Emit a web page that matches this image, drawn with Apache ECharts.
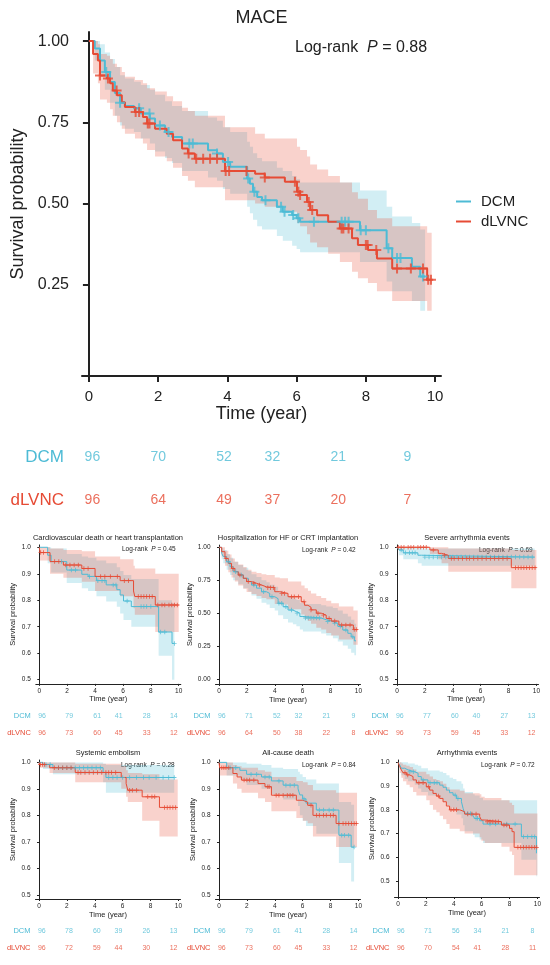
<!DOCTYPE html>
<html>
<head>
<meta charset="utf-8">
<script src="https://cdn.jsdelivr.net/npm/echarts@6/dist/echarts.min.js"></script>
<style>
 html, body { margin: 0; padding: 0; background: #fff; }
 #chart { width: 550px; height: 965px; }
</style>
</head>
<body>
<div id="chart"></div>
<script>
// ---- data: step times, survival, CI lower/upper, censor times ----
// MACE
var mainDcmT  = [0, 0.17, 0.32, 0.46, 0.61, 0.75, 0.90, 1.04, 1.3, 1.5, 1.76, 1.91, 2.2, 2.4, 2.69, 3.44, 3.7, 3.87, 4.08, 4.57, 4.65, 4.74, 4.86, 5.0, 5.43, 5.6, 5.87, 6.0, 6.1, 7.83, 8.6, 8.76, 9.33, 9.57, 9.71];
var mainDcmS  = [1, 0.977, 0.94, 0.905, 0.874, 0.84, 0.81, 0.80, 0.793, 0.777, 0.762, 0.74, 0.72, 0.705, 0.685, 0.664, 0.654, 0.628, 0.613, 0.577, 0.561, 0.536, 0.52, 0.51, 0.49, 0.475, 0.465, 0.455, 0.444, 0.418, 0.362, 0.332, 0.305, 0.275, 0.275];
var mainDcmLo = [1, 0.94, 0.89, 0.85, 0.81, 0.77, 0.74, 0.73, 0.72, 0.70, 0.685, 0.66, 0.64, 0.625, 0.60, 0.58, 0.57, 0.545, 0.53, 0.49, 0.47, 0.45, 0.43, 0.42, 0.40, 0.385, 0.37, 0.36, 0.35, 0.32, 0.26, 0.23, 0.2, 0.17, 0.17];
var mainDcmHi = [1, 1, 0.99, 0.965, 0.945, 0.92, 0.895, 0.885, 0.875, 0.865, 0.85, 0.835, 0.815, 0.80, 0.785, 0.765, 0.755, 0.735, 0.72, 0.69, 0.675, 0.655, 0.64, 0.63, 0.61, 0.6, 0.585, 0.575, 0.565, 0.54, 0.49, 0.46, 0.44, 0.42, 0.42];
var mainDcmC  = [0.5, 0.9, 1.45, 1.75, 2.05, 2.3, 2.9, 3.0, 3.7, 4.02, 4.6, 4.78, 5.1, 5.55, 5.65, 5.9, 6.05, 6.5, 7.3, 7.4, 7.5, 7.85, 8.0, 8.65, 8.9, 9.0, 9.65];
var mainLvT  = [0, 0.12, 0.26, 0.32, 0.52, 0.61, 0.69, 0.81, 0.95, 1.04, 1.33, 1.56, 1.68, 1.91, 2.25, 2.43, 2.69, 2.86, 3.06, 3.93, 4.8, 5.08, 5.66, 6.01, 6.1, 6.3, 6.39, 6.59, 6.91, 7.25, 7.6, 7.77, 8.06, 8.32, 8.76, 9.77, 9.9];
var mainLvS  = [1, 0.96, 0.94, 0.894, 0.885, 0.87, 0.848, 0.833, 0.812, 0.797, 0.782, 0.766, 0.746, 0.73, 0.715, 0.695, 0.669, 0.654, 0.638, 0.6, 0.592, 0.58, 0.567, 0.536, 0.526, 0.505, 0.48, 0.464, 0.444, 0.423, 0.393, 0.372, 0.357, 0.331, 0.30, 0.265, 0.265];
var mainLvLo = [1, 0.90, 0.87, 0.82, 0.81, 0.79, 0.77, 0.75, 0.73, 0.715, 0.70, 0.685, 0.665, 0.645, 0.63, 0.61, 0.585, 0.57, 0.55, 0.51, 0.50, 0.49, 0.475, 0.44, 0.43, 0.405, 0.38, 0.365, 0.345, 0.32, 0.29, 0.27, 0.255, 0.23, 0.20, 0.17, 0.17];
var mainLvHi = [1, 1, 0.99, 0.96, 0.955, 0.945, 0.93, 0.92, 0.905, 0.89, 0.88, 0.87, 0.855, 0.845, 0.83, 0.815, 0.795, 0.785, 0.77, 0.735, 0.715, 0.70, 0.70, 0.675, 0.665, 0.645, 0.62, 0.605, 0.585, 0.565, 0.535, 0.515, 0.48, 0.455, 0.43, 0.41, 0.41];
var mainLvC  = [0.32, 0.55, 0.8, 1.35, 1.45, 1.7, 1.75, 2.88, 3.1, 3.3, 3.5, 3.7, 3.95, 4.05, 4.55, 5.08, 5.95, 6.05, 6.1, 6.35, 6.45, 7.3, 7.35, 7.5, 8.0, 8.05, 8.3, 8.9, 9.3, 9.65, 9.8, 9.88];
var mainRiskDcm = [96, 70, 52, 32, 21, 9];
var mainRiskLv  = [96, 64, 49, 37, 20, 7];

// Cardiovascular death or heart transplantation
var p1DcmT  = [0, 0.6, 0.85, 1.97, 3.05, 3.5, 4.1, 4.8, 5.56, 5.8, 6.04, 6.6, 8.56, 9.52, 9.69];
var p1DcmS  = [1, 0.97, 0.946, 0.914, 0.898, 0.89, 0.874, 0.858, 0.84, 0.82, 0.797, 0.776, 0.68, 0.637, 0.637];
var p1DcmLo = [1, 0.94, 0.905, 0.865, 0.845, 0.835, 0.815, 0.795, 0.775, 0.75, 0.725, 0.70, 0.59, 0.50, 0.50];
var p1DcmHi = [1, 1, 0.995, 0.975, 0.965, 0.96, 0.95, 0.94, 0.925, 0.91, 0.895, 0.88, 0.80, 0.79, 0.79];
var p1DcmC  = [1.6, 2.3, 2.6, 3.6, 4.2, 4.5, 4.7, 5.3, 5.5, 6.3, 7.3, 7.5, 7.7, 8.0, 8.7, 9.0, 9.69];
var p1LvT  = [0, 0.05, 0.77, 1.73, 3.05, 4.0, 5.8, 6.76, 6.85, 8.32, 10.0];
var p1LvS  = [1, 0.98, 0.946, 0.933, 0.92, 0.89, 0.874, 0.835, 0.814, 0.782, 0.782];
var p1LvLo = [1, 0.95, 0.90, 0.885, 0.87, 0.835, 0.815, 0.77, 0.745, 0.68, 0.68];
var p1LvHi = [1, 1, 0.995, 0.99, 0.985, 0.965, 0.955, 0.93, 0.92, 0.90, 0.90];
var p1LvC  = [0.1, 0.3, 1.1, 1.4, 1.9, 2.2, 2.5, 2.8, 3.2, 3.5, 4.4, 4.7, 5.1, 5.6, 6.1, 6.4, 7.1, 7.3, 7.5, 7.7, 7.9, 8.1, 8.5, 8.8, 9.0, 9.3, 9.5, 9.7, 9.9];
var p1RiskDcm = [96, 79, 61, 41, 28, 14];
var p1RiskLv  = [96, 73, 60, 45, 33, 12];

// Hospitalization for HF or CRT implantation
var p2DcmT  = [0, 0.19, 0.31, 0.55, 0.79, 1.02, 1.38, 1.74, 2.1, 2.33, 2.69, 3.05, 3.4, 3.64, 4.0, 4.24, 4.6, 4.95, 5.3, 5.55, 5.8, 6.02, 7.33, 7.69, 8.17, 8.52, 8.88, 9.24, 9.48, 9.71, 9.83];
var p2DcmS  = [1, 0.954, 0.93, 0.89, 0.853, 0.815, 0.79, 0.765, 0.74, 0.714, 0.69, 0.663, 0.65, 0.625, 0.61, 0.575, 0.549, 0.524, 0.511, 0.5, 0.475, 0.463, 0.45, 0.437, 0.423, 0.4, 0.372, 0.347, 0.32, 0.29, 0.29];
var p2DcmLo = [1, 0.91, 0.88, 0.83, 0.79, 0.75, 0.72, 0.69, 0.665, 0.635, 0.61, 0.58, 0.565, 0.54, 0.52, 0.485, 0.455, 0.43, 0.415, 0.40, 0.375, 0.36, 0.345, 0.33, 0.31, 0.285, 0.255, 0.23, 0.20, 0.18, 0.18];
var p2DcmHi = [1, 0.995, 0.98, 0.95, 0.92, 0.89, 0.865, 0.845, 0.82, 0.795, 0.775, 0.75, 0.735, 0.715, 0.70, 0.67, 0.645, 0.625, 0.61, 0.60, 0.58, 0.57, 0.56, 0.55, 0.54, 0.52, 0.495, 0.475, 0.45, 0.42, 0.42];
var p2DcmC  = [0.7, 1.2, 1.6, 2.5, 3.2, 3.8, 4.3, 4.5, 4.8, 5.2, 5.6, 6.2, 6.4, 6.6, 6.8, 7.0, 7.2, 7.8, 8.3, 8.7, 9.1, 9.6];
var p2LvT  = [0, 0.19, 0.43, 0.67, 0.9, 1.14, 1.38, 1.74, 1.98, 2.33, 2.69, 3.05, 3.4, 4.0, 4.36, 4.95, 5.9, 6.14, 6.38, 6.6, 6.98, 7.33, 7.69, 8.05, 8.6, 9.64, 9.95];
var p2LvS  = [1, 0.967, 0.916, 0.878, 0.84, 0.815, 0.79, 0.765, 0.74, 0.727, 0.714, 0.70, 0.694, 0.663, 0.65, 0.625, 0.587, 0.56, 0.545, 0.525, 0.50, 0.485, 0.46, 0.44, 0.41, 0.375, 0.375];
var p2LvLo = [1, 0.93, 0.86, 0.81, 0.77, 0.74, 0.71, 0.685, 0.66, 0.645, 0.63, 0.615, 0.605, 0.57, 0.565, 0.53, 0.49, 0.46, 0.44, 0.42, 0.39, 0.375, 0.35, 0.33, 0.30, 0.26, 0.26];
var p2LvHi = [1, 1, 0.975, 0.945, 0.915, 0.89, 0.87, 0.85, 0.83, 0.815, 0.805, 0.795, 0.79, 0.77, 0.765, 0.74, 0.71, 0.69, 0.67, 0.65, 0.63, 0.615, 0.595, 0.575, 0.55, 0.52, 0.52];
var p2LvC  = [0.5, 1.0, 1.5, 2.1, 2.5, 2.9, 3.5, 3.7, 3.9, 4.5, 4.7, 5.2, 5.4, 5.7, 6.1, 6.6, 7.1, 7.5, 7.9, 8.3, 8.8, 9.1, 9.4, 9.7, 9.85];
var p2RiskDcm = [96, 71, 52, 32, 21, 9];
var p2RiskLv  = [96, 64, 50, 38, 22, 8];

// Severe arrhythmia events
var p3DcmT  = [0, 0.14, 0.45, 1.5, 1.77, 9.88];
var p3DcmS  = [1, 0.99, 0.979, 0.97, 0.963, 0.963];
var p3DcmLo = [1, 0.97, 0.955, 0.94, 0.93, 0.93];
var p3DcmHi = [1, 1, 1, 1, 0.995, 0.995];
var p3DcmC  = [0.3, 0.6, 0.9, 1.1, 1.3, 2.0, 2.3, 2.6, 2.9, 3.2, 3.5, 3.8, 4.0, 4.3, 4.6, 4.9, 5.2, 5.5, 5.8, 6.1, 6.4, 6.7, 7.0, 7.3, 7.6, 7.9, 8.2, 8.5, 8.8, 9.1, 9.4, 9.7];
var p3LvT  = [0, 2.36, 2.96, 3.2, 3.68, 8.2, 10.0];
var p3LvS  = [1, 0.99, 0.977, 0.97, 0.958, 0.923, 0.923];
var p3LvLo = [1, 0.975, 0.955, 0.94, 0.908, 0.845, 0.845];
var p3LvHi = [1, 1, 1, 1, 0.995, 0.99, 0.99];
var p3LvC  = [0.1, 0.3, 0.5, 0.8, 1.0, 1.2, 1.5, 1.7, 1.9, 2.1, 2.6, 3.4, 3.9, 4.1, 4.4, 4.7, 5.0, 5.2, 5.5, 5.8, 6.1, 6.4, 6.7, 7.0, 7.3, 7.6, 7.9, 8.5, 8.7, 8.9, 9.1, 9.3, 9.5, 9.7, 9.9];
var p3RiskDcm = [96, 77, 60, 40, 27, 13];
var p3RiskLv  = [96, 73, 59, 45, 33, 12];

// Systemic embolism
var p4DcmT  = [0, 0.29, 1.0, 4.6, 4.8, 9.7];
var p4DcmS  = [1, 0.992, 0.98, 0.962, 0.943, 0.943];
var p4DcmLo = [1, 0.975, 0.955, 0.925, 0.885, 0.885];
var p4DcmHi = [1, 1, 1, 0.995, 0.99, 0.99];
var p4DcmC  = [0.5, 0.8, 1.4, 1.7, 2.0, 2.3, 2.6, 2.9, 3.2, 3.5, 3.8, 4.1, 4.4, 5.0, 5.3, 5.6, 6.0, 6.5, 7.0, 7.5, 7.9, 8.4, 8.9, 9.3, 9.7];
var p4LvT  = [0, 0.05, 0.76, 2.6, 5.9, 6.25, 6.37, 7.4, 8.64, 9.95];
var p4LvS  = [1, 0.992, 0.98, 0.962, 0.943, 0.92, 0.895, 0.87, 0.83, 0.83];
var p4LvLo = [1, 0.98, 0.96, 0.925, 0.9, 0.87, 0.85, 0.78, 0.72, 0.72];
var p4LvHi = [1, 1, 1, 0.995, 0.985, 0.97, 0.96, 0.955, 0.935, 0.935];
var p4LvC  = [0.1, 0.25, 0.4, 1.1, 1.4, 1.7, 2.0, 2.3, 2.8, 3.0, 3.3, 3.6, 3.9, 4.2, 4.5, 4.8, 5.0, 5.2, 5.5, 6.5, 6.7, 7.0, 7.8, 8.1, 8.3, 9.0, 9.2, 9.4, 9.6, 9.8];
var p4RiskDcm = [96, 78, 60, 39, 26, 13];
var p4RiskLv  = [96, 72, 59, 44, 30, 12];

// All-cause death
var p5DcmT  = [0, 0.55, 1.5, 1.98, 3.05, 3.76, 4.6, 5.67, 5.8, 6.0, 6.24, 6.98, 8.6, 9.48, 9.69];
var p5DcmS  = [1, 0.98, 0.97, 0.955, 0.945, 0.93, 0.914, 0.9, 0.877, 0.862, 0.846, 0.82, 0.725, 0.68, 0.68];
var p5DcmLo = [1, 0.95, 0.935, 0.915, 0.9, 0.88, 0.86, 0.835, 0.80, 0.78, 0.76, 0.73, 0.62, 0.55, 0.55];
var p5DcmHi = [1, 1, 1, 0.995, 0.99, 0.98, 0.975, 0.965, 0.955, 0.945, 0.935, 0.92, 0.85, 0.84, 0.84];
var p5DcmC  = [0.8, 1.2, 2.3, 2.7, 3.3, 3.6, 4.3, 4.8, 5.1, 5.4, 6.1, 7.2, 7.5, 7.9, 8.2, 8.8, 9.0, 9.3, 9.69];
var p5LvT  = [0, 0.05, 1.0, 1.3, 1.62, 2.8, 3.3, 3.76, 5.55, 6.02, 6.36, 6.74, 8.4, 9.9];
var p5LvS  = [1, 0.98, 0.958, 0.945, 0.933, 0.92, 0.908, 0.876, 0.857, 0.85, 0.838, 0.80, 0.769, 0.769];
var p5LvLo = [1, 0.95, 0.92, 0.90, 0.885, 0.865, 0.85, 0.815, 0.79, 0.78, 0.77, 0.72, 0.68, 0.68];
var p5LvHi = [1, 1, 0.99, 0.985, 0.98, 0.97, 0.965, 0.945, 0.93, 0.925, 0.915, 0.895, 0.885, 0.885];
var p5LvC  = [0.2, 0.35, 0.5, 0.7, 1.8, 2.0, 2.2, 2.5, 3.5, 3.6, 4.1, 4.3, 4.6, 4.9, 5.1, 5.3, 6.6, 7.0, 7.2, 7.5, 7.7, 8.0, 8.2, 8.6, 8.9, 9.1, 9.3, 9.5, 9.7, 9.85];
var p5RiskDcm = [96, 79, 61, 41, 28, 14];
var p5RiskLv  = [96, 73, 60, 45, 33, 12];

// Arrhythmia events
var p6DcmT  = [0, 0.12, 0.24, 0.48, 0.72, 1.2, 1.44, 1.67, 2.15, 2.99, 3.23, 3.47, 3.7, 3.95, 4.19, 4.55, 4.67, 4.78, 5.38, 5.5, 5.86, 6.1, 8.85, 9.93, 9.98];
var p6DcmS  = [1, 0.989, 0.975, 0.968, 0.96, 0.954, 0.94, 0.926, 0.914, 0.904, 0.895, 0.883, 0.872, 0.862, 0.848, 0.834, 0.806, 0.785, 0.774, 0.764, 0.754, 0.74, 0.687, 0.617, 0.617];
var p6DcmLo = [1, 0.97, 0.945, 0.93, 0.92, 0.905, 0.89, 0.875, 0.86, 0.845, 0.835, 0.82, 0.81, 0.80, 0.78, 0.765, 0.735, 0.71, 0.695, 0.685, 0.675, 0.66, 0.59, 0.52, 0.52];
var p6DcmHi = [1, 1, 1, 1, 0.995, 0.99, 0.985, 0.975, 0.965, 0.96, 0.955, 0.945, 0.935, 0.93, 0.92, 0.91, 0.89, 0.875, 0.865, 0.86, 0.85, 0.84, 0.84, 0.84, 0.84];
var p6DcmC  = [0.85, 1.1, 1.8, 2.3, 2.6, 2.8, 4.1, 4.3, 5.0, 5.2, 5.6, 5.7, 6.6, 7.0, 7.8, 8.4, 9.0, 9.3, 9.6, 9.8];
var p6LvT  = [0, 0.12, 0.24, 0.36, 0.6, 0.84, 1.08, 1.32, 2.03, 2.27, 2.51, 2.75, 2.99, 3.23, 3.47, 3.7, 4.43, 4.78, 5.86, 5.98, 6.22, 7.42, 8.0, 8.18, 8.33, 10.0];
var p6LvS  = [1, 0.982, 0.968, 0.956, 0.947, 0.94, 0.926, 0.914, 0.897, 0.883, 0.869, 0.858, 0.848, 0.834, 0.816, 0.80, 0.792, 0.782, 0.771, 0.757, 0.75, 0.736, 0.722, 0.708, 0.642, 0.642];
var p6LvLo = [1, 0.955, 0.935, 0.92, 0.905, 0.895, 0.875, 0.86, 0.84, 0.82, 0.80, 0.79, 0.775, 0.76, 0.74, 0.72, 0.71, 0.70, 0.685, 0.67, 0.66, 0.645, 0.625, 0.61, 0.525, 0.525];
var p6LvHi = [1, 1, 0.995, 0.99, 0.985, 0.98, 0.97, 0.96, 0.95, 0.94, 0.93, 0.925, 0.92, 0.91, 0.895, 0.885, 0.88, 0.87, 0.865, 0.855, 0.85, 0.84, 0.83, 0.82, 0.785, 0.785];
var p6LvC  = [0.5, 0.7, 1.5, 1.8, 2.2, 2.9, 3.8, 4.0, 4.2, 5.0, 5.3, 5.6, 6.4, 6.6, 6.8, 7.0, 7.2, 7.6, 7.8, 8.6, 8.8, 9.0, 9.2, 9.4, 9.6, 9.8, 9.95];
var p6RiskDcm = [96, 71, 56, 34, 21, 8];
var p6RiskLv  = [96, 70, 54, 41, 28, 11];

var groups = ['DCM', 'dLVNC'];
var timeTicks = [0, 2, 4, 6, 8, 10];
var mainRiskCols = [0.1, 2.0, 3.9, 5.3, 7.2, 9.2];
var smallRiskCols = [0.2, 2.15, 4.15, 5.7, 7.7, 9.65];

// ---- styling ----
var F = 'Liberation Sans, Arial, Helvetica, sans-serif';
var BLUE = '#4DBBD5', RED = '#E64B35';
var BLUE_BAND = 'rgba(77,187,213,0.25)', RED_BAND = 'rgba(230,75,53,0.25)';
var INK = '#222';
var PLUS = 'path://M-0.2,-1 L0.2,-1 L0.2,-0.2 L1,-0.2 L1,0.2 L0.2,0.2 L0.2,1 L-0.2,1 L-0.2,0.2 L-1,0.2 L-1,-0.2 L-0.2,-0.2 Z';

var y51 = [0.5, 0.6, 0.7, 0.8, 0.9, 1.0];
var panels = [
  {big: true, title: 'MACE', p: '0.88', left: 82, top: 32, w: 359, h: 344, xMin: -0.2, xMax: 10.17, yMin: -0.031, yMax: 1.028,
   yTicks: [0.25, 0.5, 0.75, 1.0], dec: 2, tx: 261.5, ty: 18, lx: 295, ly: 48, rTop: 435.5, rH: 86, cols: mainRiskCols,
   dcm: [mainDcmT, mainDcmS, mainDcmLo, mainDcmHi, mainDcmC], lv: [mainLvT, mainLvS, mainLvLo, mainLvHi, mainLvC], risk: [mainRiskDcm, mainRiskLv]},
  {title: 'Cardiovascular death or heart transplantation', p: '0.45', left: 35.8, top: 544.9, w: 145, h: 139, xMin: -0.25, xMax: 10.15, yMin: 0.484, yMax: 1.009,
   yTicks: y51, dec: 1, tx: 108, ty: 538, lx: 122, ly: 549.5, rTop: 707.5, rH: 34, cols: smallRiskCols,
   dcm: [p1DcmT, p1DcmS, p1DcmLo, p1DcmHi, p1DcmC], lv: [p1LvT, p1LvS, p1LvLo, p1LvHi, p1LvC], risk: [p1RiskDcm, p1RiskLv]},
  {title: 'Hospitalization for HF or CRT implantation', p: '0.42', left: 215.5, top: 545.1, w: 145, h: 138.9, xMin: -0.25, xMax: 10.15, yMin: -0.038, yMax: 1.017,
   yTicks: [0, 0.25, 0.5, 0.75, 1.0], dec: 2, tx: 288, ty: 537.5, lx: 302, ly: 550, rTop: 707.5, rH: 34, cols: smallRiskCols,
   dcm: [p2DcmT, p2DcmS, p2DcmLo, p2DcmHi, p2DcmC], lv: [p2LvT, p2LvS, p2LvLo, p2LvHi, p2LvC], risk: [p2RiskDcm, p2RiskLv]},
  {title: 'Severe arrhythmia events', p: '0.69', left: 393.5, top: 544.9, w: 145, h: 139, xMin: -0.25, xMax: 10.15, yMin: 0.484, yMax: 1.009,
   yTicks: y51, dec: 1, tx: 467, ty: 538.3, lx: 479, ly: 550, rTop: 707.5, rH: 34, cols: smallRiskCols,
   dcm: [p3DcmT, p3DcmS, p3DcmLo, p3DcmHi, p3DcmC], lv: [p3LvT, p3LvS, p3LvLo, p3LvHi, p3LvC], risk: [p3RiskDcm, p3RiskLv]},
  {title: 'Systemic embolism', p: '0.28', left: 35.5, top: 760, w: 145, h: 139, xMin: -0.25, xMax: 10.15, yMin: 0.484, yMax: 1.009,
   yTicks: y51, dec: 1, tx: 108, ty: 753, lx: 121, ly: 765, rTop: 922.5, rH: 34, cols: smallRiskCols,
   dcm: [p4DcmT, p4DcmS, p4DcmLo, p4DcmHi, p4DcmC], lv: [p4LvT, p4LvS, p4LvLo, p4LvHi, p4LvC], risk: [p4RiskDcm, p4RiskLv]},
  {title: 'All-cause death', p: '0.84', left: 215.5, top: 760, w: 145, h: 139, xMin: -0.25, xMax: 10.15, yMin: 0.484, yMax: 1.009,
   yTicks: y51, dec: 1, tx: 288, ty: 753, lx: 302, ly: 765, rTop: 922.5, rH: 34, cols: smallRiskCols,
   dcm: [p5DcmT, p5DcmS, p5DcmLo, p5DcmHi, p5DcmC], lv: [p5LvT, p5LvS, p5LvLo, p5LvHi, p5LvC], risk: [p5RiskDcm, p5RiskLv]},
  {title: 'Arrhythmia events', p: '0.72', left: 394.5, top: 760, w: 145, h: 137, xMin: -0.25, xMax: 10.15, yMin: 0.433, yMax: 1.0097,
   yTicks: y51, dec: 1, tx: 467, ty: 753, lx: 481, ly: 765, rTop: 922.5, rH: 34, cols: smallRiskCols,
   dcm: [p6DcmT, p6DcmS, p6DcmLo, p6DcmHi, p6DcmC], lv: [p6LvT, p6LvS, p6LvLo, p6LvHi, p6LvC], risk: [p6RiskDcm, p6RiskLv]}
];

function survAt(T, S, t) {
  var s = S[0];
  for (var i = 0; i < T.length; i++) { if (T[i] <= t) s = S[i]; }
  return s;
}

var grids = [], xAxes = [], yAxes = [], series = [], graphics = [];

panels.forEach(function (pn) {
  var big = !!pn.big;
  var g = grids.length;
  grids.push({left: pn.left, top: pn.top, width: pn.w, height: pn.h, outerBoundsMode: 'none'});
  xAxes.push({
    gridIndex: g, type: 'value', min: pn.xMin, max: pn.xMax,
    axisLine: {onZero: false, lineStyle: {color: INK, width: big ? 2 : 1}},
    axisTick: {customValues: timeTicks, length: big ? 6 : 2, lineStyle: {color: INK, width: big ? 2 : 1}},
    axisLabel: {customValues: timeTicks, fontSize: big ? 15 : 6.5, color: INK, margin: big ? 13 : 3.5, fontFamily: F},
    splitLine: {show: false},
    name: 'Time (year)', nameLocation: 'middle', nameGap: big ? 28 : 11.5,
    nameTextStyle: {fontSize: big ? 18 : 7.5, color: INK, fontFamily: F}
  });
  yAxes.push({
    gridIndex: g, type: 'value', min: pn.yMin, max: pn.yMax,
    axisLine: {show: true, lineStyle: {color: INK, width: big ? 2 : 1}},
    axisTick: {show: true, customValues: pn.yTicks, length: big ? 6 : 2, lineStyle: {color: INK, width: big ? 2 : 1}},
    axisLabel: {customValues: pn.yTicks, fontSize: big ? 16 : 6.5, color: INK, margin: big ? 13 : 5, fontFamily: F,
      formatter: (function (d) { return function (v) { return v.toFixed(d); }; })(pn.dec)},
    splitLine: {show: false},
    name: 'Survival probability', nameLocation: 'middle', nameGap: big ? 53 : 18.5,
    nameTextStyle: {fontSize: big ? 18 : 7.5, color: INK, fontFamily: F}
  });

  [[pn.dcm, BLUE, BLUE_BAND, 'DCM'], [pn.lv, RED, RED_BAND, 'dLVNC']].forEach(function (grp) {
    var T = grp[0][0], Lo = grp[0][2], Hi = grp[0][3];
    series.push({
      type: 'custom', name: grp[3] + ' CI ' + g, xAxisIndex: g, yAxisIndex: g, silent: true, z: 1,
      data: T.map(function (t, i) { return [t, Lo[i], Hi[i]]; }),
      renderItem: function (params, api) {
        if (params.dataIndex !== 0) return null;
        var up = [], dn = [];
        for (var i = 0; i < T.length - 1; i++) {
          up.push(api.coord([T[i], Hi[i]]), api.coord([T[i + 1], Hi[i]]));
          dn.push(api.coord([T[i], Lo[i]]), api.coord([T[i + 1], Lo[i]]));
        }
        return {type: 'polygon', shape: {points: up.concat(dn.reverse())}, style: {fill: grp[2]}};
      }
    });
  });
  [[pn.dcm, BLUE, 'DCM'], [pn.lv, RED, 'dLVNC']].forEach(function (grp) {
    var T = grp[0][0], S = grp[0][1], C = grp[0][4];
    series.push({
      type: 'line', name: big ? grp[2] : grp[2] + ' ' + g, xAxisIndex: g, yAxisIndex: g, step: 'end', symbol: 'none',
      color: grp[1], z: 3, silent: true,
      lineStyle: {color: grp[1], width: big ? 2 : 1},
      data: T.map(function (t, i) { return [t, S[i]]; })
    });
    series.push({
      type: 'scatter', name: grp[2] + ' censored ' + g, xAxisIndex: g, yAxisIndex: g, symbol: PLUS,
      symbolSize: big ? 10 : 4.5, z: 4, silent: true, itemStyle: {color: grp[1]},
      data: C.map(function (t) { return [t, survAt(T, S, t)]; })
    });
  });

  // risk table grid, sharing the same time scale
  var r = grids.length;
  grids.push({left: pn.left, top: pn.rTop, width: pn.w, height: pn.rH, outerBoundsMode: 'none'});
  xAxes.push({gridIndex: r, type: 'value', min: pn.xMin, max: pn.xMax, show: false});
  yAxes.push({
    gridIndex: r, type: 'category', data: ['dLVNC', 'DCM'],
    axisLine: {show: false}, axisTick: {show: false}, splitLine: {show: false},
    axisLabel: {fontSize: big ? 17 : 7.5, margin: big ? 18 : 5, fontFamily: F,
      color: function (v) { return v === 'DCM' ? BLUE : RED; }}
  });
  var items = [];
  pn.cols.forEach(function (c, i) {
    items.push({value: [c, 'DCM', pn.risk[0][i]], label: {color: BLUE}});
    items.push({value: [c, 'dLVNC', pn.risk[1][i]], label: {color: RED}});
  });
  series.push({
    type: 'scatter', name: 'risk ' + g, xAxisIndex: r, yAxisIndex: r, symbolSize: 1, silent: true,
    itemStyle: {color: 'rgba(0,0,0,0)'},
    label: {show: true, position: 'inside', fontSize: big ? 14 : 7, fontFamily: F,
      formatter: function (p) { return String(p.value[2]); }},
    data: items
  });

  graphics.push({type: 'text', x: pn.tx, y: pn.ty, silent: true,
    style: {text: pn.title, align: 'center', verticalAlign: 'middle', fill: INK, fontSize: big ? 18 : 7.5, fontFamily: F}});
  var fs = big ? 16 : 6.5;
  graphics.push({type: 'text', x: pn.lx, y: pn.ly, silent: true,
    style: {text: '{a|Log-rank  }{b|P}{a| = ' + pn.p + '}', align: 'left', verticalAlign: 'middle', fill: INK,
      rich: {a: {fontSize: fs, fontFamily: F, fill: INK}, b: {fontSize: fs, fontFamily: F, fontStyle: 'italic', fill: INK}}}});
});

var chart = echarts.init(document.getElementById('chart'), null, {renderer: 'canvas'});
chart.setOption({
  backgroundColor: '#fff',
  animation: false,
  legend: {
    data: groups, orient: 'vertical', left: 451, top: 188, icon: 'rect', itemWidth: 15, itemHeight: 2, itemGap: 3,
    selectedMode: false,
    textStyle: {fontSize: 15, color: INK, fontFamily: F, lineHeight: 17, padding: [0, 0, 0, 5]}
  },
  grid: grids,
  xAxis: xAxes,
  yAxis: yAxes,
  series: series,
  graphic: graphics
});
</script>
</body>
</html>
